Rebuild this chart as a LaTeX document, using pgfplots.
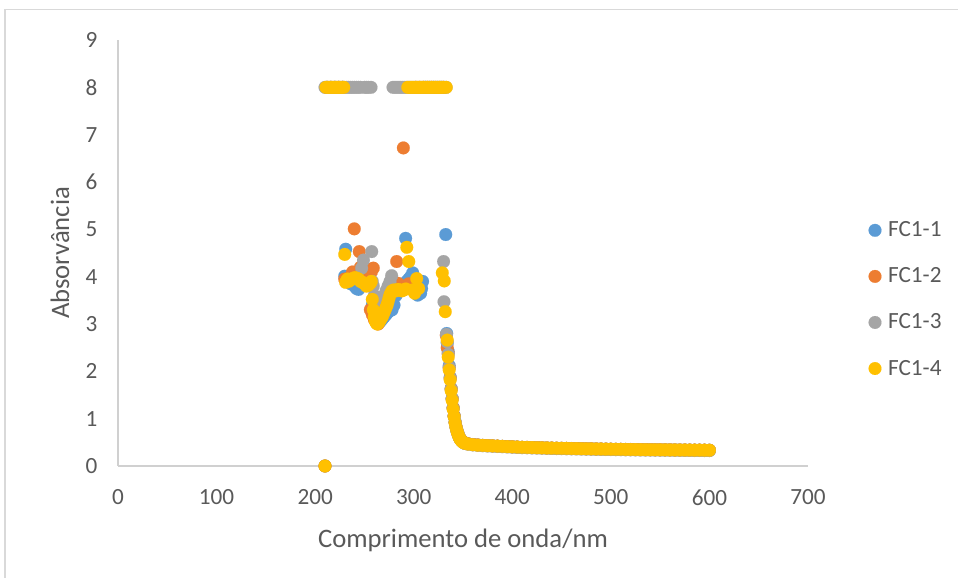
\documentclass[border=0pt]{standalone}
\usepackage{fontspec}
\setmainfont{Carlito}
\usepackage{pgfplots}
\usepackage{pgfplotstable}
\pgfplotsset{compat=1.18}

\definecolor{sA}{HTML}{5B9BD5}
\definecolor{sB}{HTML}{ED7D31}
\definecolor{sC}{HTML}{A5A5A5}
\definecolor{sD}{HTML}{FFC000}
\definecolor{txt}{HTML}{595959}
\definecolor{axl}{HTML}{D0D0D0}
\definecolor{frm}{HTML}{D9D9D9}

% saturated / noisy region, one table per sample
\pgfplotstableread{
x y
210 0
212 8
216 8
220 8
224 8
228 8
230 4.01
231 4.58
232 3.95
234 3.90
236 3.85
238 3.90
240 3.80
242 3.75
244 3.73
246 3.80
248 3.90
250 4.00
252 4.10
254 4.15
256 3.90
258 3.40
260 3.30
262 3.20
264 3.10
266 3.05
268 3.10
270 3.15
272 3.20
274 3.25
276 3.28
278 3.30
280 3.40
282 3.60
284 3.70
286 3.75
288 3.80
290 3.85
291.8 4.81
293 3.90
295 3.95
297 4.00
299 4.08
300 3.80
302 3.85
304 3.61
305 3.70
306 3.82
307 3.65
308 3.75
309 3.90
312 8
316 8
320 8
324 8
328 8
331 8
332.5 4.89
333.5 2.80
334 2.60
}\tabA

\pgfplotstableread{
x y
210 0
212 8
216 8
220 8
224 8
228 8
230 3.95
232 3.90
234 3.95
236 4.00
238 4.10
239.7 5.01
242 4.00
244.8 4.53
246 4.20
248 4.00
250 3.90
252 3.95
255 4.14
256 3.30
257 4.10
258 3.20
259 4.18
260 3.10
262 3.05
264 3.00
266 3.10
268 3.20
270 3.30
272 3.40
274 3.60
276 3.82
278 3.75
280 3.70
282.7 4.32
284 3.86
286 3.75
288 3.75
289.5 6.72
291 3.80
293 3.80
295 3.85
297 3.75
299 3.80
302 8
306 8
310 8
314 8
318 8
322 8
326 8
330 8
333 2.76
334 2.50
}\tabB

\pgfplotstableread{
x y
210 8
212 8
214 8
216 8
218 8
220 8
222 8
224 8
226 8
228 8
230 8
232 8
234 8
236 8
238 8
240 8
242 8
244 8
246 8
247.2 4.18
249 4.35
250 8
252 8
254 8
256.7 8
257.4 4.53
258 3.90
259 3.80
260 3.60
262 3.40
264 3.30
266 3.50
268 3.55
270 3.60
272 3.70
274 3.80
276 3.90
277.6 4.02
279 8
281 8
283 8
285 8
287 8
289 8
291 8
293 8
295 8
297 8
299 8
301 8
303 8
305 8
307 8
309 8
311 8
313 8
315 8
317 8
319 8
321 8
323 8
325 8
327 8
329 8
330.3 4.32
330.7 3.47
332.8 8
333.2 2.78
334 2.62
}\tabC

\pgfplotstableread{
x y
210 0
211 8
213 8
215 8
217 8
219 8
221 8
223 8
225 8
227 8
229 8
230 4.47
231 3.88
232 3.92
233 3.95
234 3.90
236 3.93
238 3.96
240 3.98
242 3.97
244 3.95
246 3.90
248 3.88
250 3.85
252 3.80
254 3.82
256 3.86
257 3.90
258 3.52
259 3.30
260 3.15
261 3.06
262 3.02
263 3.00
264 3.02
265 3.05
266 3.08
267 3.12
268 3.15
269 3.20
270 3.25
271 3.30
272 3.35
273 3.40
274 3.47
275 3.55
276 3.62
277 3.66
278 3.70
280 3.72
282 3.70
284 3.73
286 3.72
288 3.70
290 3.72
292 3.74
293 4.62
294 8
295 4.32
296 8
298 8
299 3.72
300 8
301 3.65
302 8
303 3.96
304 8
305 3.75
306 8
308 8
310 8
312 8
314 8
316 8
318 8
320 8
322 8
324 8
326 8
328 8
329 4.08
330 8
331 3.91
332 3.26
333 8
334 2.66
}\tabD

% absorption edge and visible tail, all four samples
\pgfplotstableread{
x y1 y2 y3 y4
335 2.42 2.38 2.36 2.30
336 2.12 2.08 2.08 2.03
337 1.88 1.86 1.85 1.82
338 1.64 1.63 1.62 1.59
339 1.43 1.42 1.42 1.39
340 1.23 1.23 1.22 1.20
341 1.06 1.06 1.05 1.04
342 0.93 0.92 0.92 0.91
343 0.82 0.82 0.81 0.81
344 0.74 0.74 0.73 0.73
345 0.68 0.67 0.67 0.67
346 0.62 0.62 0.61 0.61
347 0.58 0.58 0.57 0.57
348 0.55 0.55 0.54 0.54
349 0.53 0.53 0.52 0.52
350 0.51 0.51 0.50 0.50
352 0.485 0.485 0.475 0.480
355 0.470 0.470 0.460 0.465
360 0.455 0.455 0.445 0.450
365 0.445 0.445 0.435 0.440
370 0.437 0.437 0.427 0.435
375 0.431 0.431 0.421 0.430
380 0.426 0.426 0.416 0.425
385 0.421 0.421 0.411 0.420
390 0.416 0.416 0.406 0.415
395 0.411 0.411 0.401 0.410
400 0.406 0.406 0.396 0.405
405 0.401 0.401 0.391 0.400
410 0.396 0.396 0.386 0.395
415 0.394 0.394 0.384 0.393
420 0.391 0.391 0.381 0.390
425 0.388 0.388 0.378 0.387
430 0.385 0.385 0.375 0.384
435 0.382 0.382 0.372 0.381
440 0.379 0.379 0.369 0.378
445 0.377 0.377 0.367 0.376
450 0.375 0.375 0.365 0.374
455 0.373 0.373 0.363 0.372
460 0.371 0.371 0.361 0.370
465 0.369 0.369 0.359 0.368
470 0.367 0.367 0.357 0.366
475 0.365 0.365 0.355 0.364
480 0.363 0.363 0.353 0.362
485 0.361 0.361 0.351 0.360
490 0.359 0.359 0.349 0.358
495 0.357 0.357 0.347 0.356
500 0.356 0.356 0.346 0.355
505 0.354 0.354 0.344 0.353
510 0.353 0.353 0.343 0.352
515 0.351 0.351 0.341 0.350
520 0.350 0.350 0.340 0.349
525 0.349 0.349 0.339 0.348
530 0.347 0.347 0.337 0.346
535 0.346 0.346 0.336 0.345
540 0.345 0.345 0.335 0.344
545 0.344 0.344 0.334 0.343
550 0.343 0.343 0.333 0.342
555 0.342 0.342 0.332 0.341
560 0.341 0.341 0.331 0.340
565 0.340 0.340 0.330 0.339
570 0.339 0.339 0.329 0.338
575 0.338 0.338 0.328 0.337
580 0.337 0.337 0.327 0.336
585 0.336 0.336 0.326 0.335
590 0.336 0.336 0.326 0.335
595 0.335 0.335 0.325 0.334
600 0.334 0.334 0.324 0.333
}\tabTail

\newcommand\tickfont{\fontsize{17.4}{20}\selectfont}
\newcommand\titlefont{\fontsize{20}{24}\selectfont}

\begin{document}
\begin{tikzpicture}
\useasboundingbox (0,0) rectangle (718.5pt,433.5pt);
\draw[frm, line width=1.1pt] (3.75pt,0) -- (3.75pt,426.4pt) -- (718.5pt,426.4pt);
\begin{axis}[
  at={(88.5pt,84pt)}, anchor=south west,
  scale only axis, width=517.5pt, height=319.5pt,
  xmin=0, xmax=700, ymin=0, ymax=9,
  xtick={0,100,...,700}, ytick={0,1,...,9},
  axis x line=bottom, axis y line=left,
  axis line style={-, draw=axl, line width=0.9pt},
  x axis line style={line width=1.5pt},
  major tick length=0pt,
  clip=false,
  /pgf/number format/assume math mode=true,
  tick label style={font=\tickfont, text=txt},
  xticklabel style={anchor=north, yshift=-14pt},
  yticklabel style={anchor=east, xshift=-12pt},
  xlabel={Comprimento de onda/nm},
  ylabel={Absorvância},
  xlabel style={at={(axis description cs:0.5,-0.1737)}, anchor=center, font=\titlefont, text=txt},
  ylabel style={at={(axis description cs:-0.084,0.50)}, anchor=center, font=\titlefont, text=txt},
  legend style={at={(1.0875,0.391)}, anchor=west, draw=none, fill=none,
    font=\tickfont, text=txt, inner sep=0pt, row sep=17.75pt,
    nodes={inner xsep=5pt, inner ysep=2pt}},
  legend cell align=left,
  legend image code/.code={\draw[mark repeat=1,#1] plot coordinates {(4.5pt,0pt)};},
  every axis plot/.append style={only marks, mark=*, mark size=4.8pt},
]
\addplot[sA, mark options={fill=sA, draw=sA, line width=0.1pt}] table {\tabA};
\addlegendentry{FC1-1}
\addplot[sA, forget plot, mark options={fill=sA, draw=sA, line width=0.1pt}] table[x=x, y=y1] {\tabTail};
\addplot[sB, mark options={fill=sB, draw=sB, line width=0.1pt}] table {\tabB};
\addlegendentry{FC1-2}
\addplot[sB, forget plot, mark options={fill=sB, draw=sB, line width=0.1pt}] table[x=x, y=y2] {\tabTail};
\addplot[sC, mark options={fill=sC, draw=sC, line width=0.1pt}] table {\tabC};
\addlegendentry{FC1-3}
\addplot[sC, forget plot, mark options={fill=sC, draw=sC, line width=0.1pt}] table[x=x, y=y3] {\tabTail};
\addplot[sD, mark options={fill=sD, draw=sD, line width=0.1pt}] table {\tabD};
\addlegendentry{FC1-4}
\addplot[sD, forget plot, mark options={fill=sD, draw=sD, line width=0.1pt}] table[x=x, y=y4] {\tabTail};
\end{axis}
\end{tikzpicture}
\end{document}
